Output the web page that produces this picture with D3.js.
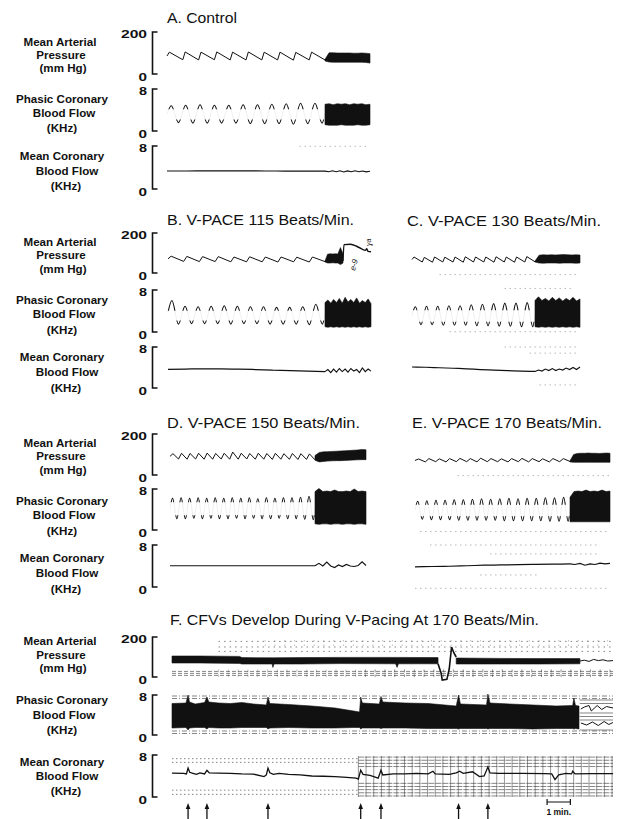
<!DOCTYPE html>
<html><head><meta charset="utf-8">
<script src="https://cdn.jsdelivr.net/npm/d3@7"></script>
<style>
html,body{margin:0;padding:0;background:#fff;}
svg{display:block;}
text{font-family:"Liberation Sans",Arial,sans-serif;fill:#111;}
</style></head><body>
<svg id="chart" width="617" height="819"></svg>
<script>
// ================= DATA =================
const panelKeys = ["A","B","C","D","E"];
const panelTitles = ["A. Control","B. V-PACE  115 Beats/Min.","C. V-PACE  130 Beats/Min.","D. V-PACE  150 Beats/Min.","E. V-PACE  170 Beats/Min."];
const fTitle = "F.  CFVs Develop During V-Pacing  At 170 Beats/Min.";
const channelLabels = [["Mean Arterial","Pressure","(mm Hg)"],["Phasic Coronary","Blood Flow","(KHz)"],["Mean Coronary","Blood Flow","(KHz)"]];
const topTicks = ["200","8","8"];
const bottomTicks = ["0","0","0"];
const mapDomain = [0,200];
const flowDomain = [0,8];
// seconds: pacing onset (start of dense segment) and end of trace
const paceStart = [6.32,6.28,4.92,5.8,6.2];
const traceEnd  = [8.12,8.12,6.72,7.84,7.8];

// --- A. Control
const aMapSys = [104,105,104,105,104,105,104,104,103,104];
const aMapDia = [68,67,68,67,67,67,67,66,67,67];
const aMapBand = [[70,62],[101,57],[101,56],[100,56],[100,56],[100,56],[100,56],[99,56],[99,56],[100,56],[99,55],[97,52]];
const aFlowPeak = [4.8,4.9,5.0,4.9,4.9,5.0,5.0,5.1,5.2,5.3,5.3];
const aFlowTrough = [1.6,1.5,1.5,1.5,1.5,1.4,1.4,1.4,1.3,1.4,1.5];
const aFlowBand = [[5.1,1.2],[5.2,1.1],[5.0,1.1],[5.2,1.1],[5.1,1.2],[5.2,1.1],[5.0,1.1],[5.2,1.1],[5.1,1.2],[5.2,1.1],[5.0,1.1],[5.1,1.2]];
const aMeanPre = [3.35,3.35,3.36,3.37,3.36,3.35,3.34,3.33,3.33];
const aMeanPost = [3.33,3.2,3.4,3.22,3.38,3.18,3.36,3.2,3.4,3.22,3.35,3.18,3.3];

// --- B. V-PACE 115
const bMapSys = [84,83,82,82,80,81,80,80,79,80];
const bMapDia = [58,57,57,56,56,56,55,56,55,57];
const bMapBand = [[60,55],[94,50],[96,50],[95,51],[96,50],[95,50],[127,42],[95,50]];
const bMapBandEnd = 7.0;
const bMapAfter = [[7.0,60],[7.04,142],[7.3,144],[7.6,130],[7.9,113],[7.95,122],[8.0,108],[8.12,106]];
const bFlowPeak = [6.0,4.9,4.8,4.9,5.0,4.9,4.8,4.8,4.7,4.7,4.8,5.3];
const bFlowTrough = [1.5,1.6,1.6,1.6,1.5,1.6,1.6,1.5,1.5,1.5,1.4,1.5];
const bFlowBand = [[5.6,1.0],[6.1,0.9],[5.5,1.0],[6.2,0.9],[5.6,1.0],[6.4,0.9],[5.5,1.0],[6.6,0.9],[5.7,1.0],[6.2,0.9],[5.6,1.0],[6.5,0.9],[5.5,1.0],[6.0,0.9],[5.6,1.0],[6.3,0.9],[5.4,1.0]];
const bMeanPre = [3.65,3.7,3.75,3.75,3.7,3.6,3.5,3.4,3.3,3.2];
const bMeanPost = [3.2,3.6,3.0,3.7,3.1,3.8,3.2,3.7,3.1,3.8,3.3,3.6,3.0,3.9,3.2,3.7,3.3];

// --- C. V-PACE 130
const cMapSys = [80,78,80,79,80,81,80,80,81,80,80,82];
const cMapDia = [55,54,55,55,54,55,55,54,55,54,55,56];
const cMapBand = [[60,55],[89,50],[91,49],[90,50],[91,50],[90,50],[91,49],[92,50],[91,50],[90,50],[91,49],[90,50]];
const cFlowPeak = [4.8,4.9,4.9,5.0,5.0,5.2,5.3,5.4,5.5,5.5,5.6];
const cFlowTrough = [1.4,1.4,1.3,1.3,1.3,1.2,1.2,1.1,1.1,1.0,1.0];
const cFlowBand = [[6.0,1.0],[6.7,0.9],[6.0,1.0],[6.4,0.9],[5.9,1.0],[6.6,0.9],[6.0,1.0],[6.5,0.9],[5.9,1.0],[6.4,0.9],[6.0,1.0],[6.6,0.9],[5.9,1.0],[6.3,0.9]];
const cMeanPre = [4.1,4.05,3.95,3.85,3.75,3.6,3.5,3.4,3.3,3.25];
const cMeanPost = [3.2,3.5,3.3,3.7,3.4,3.8,3.4,3.7,3.5,3.9,3.6,4.0,3.6,4.1];

// --- D. V-PACE 150
const dMapSys = [104,106,105,106,107,105,106,112,106,105,106,105,106,104,105,104,103];
const dMapDia = [78,77,78,77,77,78,77,77,78,77,77,76,77,77,76,76,74];
const dMapBand = [[95,72],[110,64],[113,66],[114,68],[115,69],[116,70],[117,70],[118,71],[119,72],[121,73],[122,74],[124,75],[123,75]];
const dFlowPeak = [6.2,6.3,6.2,6.3,6.2,6.3,6.2,6.3,6.2,6.3,6.1,6.3,6.2,6.3,6.3,6.4,6.6];
const dFlowTrough = [2.2,2.2,2.3,2.2,2.3,2.2,2.2,2.3,2.2,2.3,2.2,2.2,2.3,2.2,2.2,2.1,2.0];
const dFlowBand = [[7.5,1.2],[8.1,1.1],[7.5,1.2],[7.6,1.2],[7.5,1.1],[7.8,1.2],[7.5,1.2],[7.5,1.1],[7.6,1.2],[7.5,1.2],[8.0,1.1],[7.5,1.2],[7.6,1.2],[7.5,1.1]];
const dMeanPre = [4.05,4.05,4.05,4.05,4.05,4.05,4.05,4.05];
const dMeanPost = [4.05,4.5,4.0,4.75,4.0,3.7,4.2,3.9,4.3,4.0,3.9,4.1,4.8,4.1];

// --- E. V-PACE 170
const eMapSys = [78,80,79,80,81,80,82,80,79,80,81,80,79,80,80];
const eMapDia = [64,65,64,65,65,64,65,65,64,65,64,65,64,65,66];
const eMapBand = [[70,64],[100,62],[105,62],[106,62],[106,62],[107,62],[106,62],[106,62],[105,62],[106,62],[107,62],[106,62]];
const eFlowPeak = [5.6,5.7,5.8,5.8,5.9,5.9,6.0,6.1,6.0,6.1,6.2,6.1,6.2,6.2,6.3,6.3,6.4];
const eFlowTrough = [2.1,2.0,2.0,2.0,1.9,1.9,1.9,1.9,1.9,1.8,1.8,1.8,1.8,1.8,1.7,1.7,1.7];
const eFlowBand = [[6.4,1.6],[7.5,1.6],[7.6,1.6],[7.5,1.6],[7.8,1.6],[7.5,1.6],[7.6,1.6],[7.5,1.6],[7.8,1.6],[7.5,1.6],[7.6,1.6]];
const eMeanPre = [3.85,3.9,3.95,4.05,4.15,4.2,4.25,4.3,4.35,4.4];
const eMeanPost = [4.4,4.3,4.5,4.15,4.4,4.3,4.55,4.4,4.5];

// chart-paper marks: [panel, channel, value, t0, t1]
const paperMarks = [
  ["A",2,7.95,5.3,8.1],
  ["C",0,-8,1.1,6.7],["C",1,8.3,3.7,6.5],["C",1,0.05,1.5,6.7],["C",2,8.0,3.7,6.7],["C",2,6.8,4.7,6.7],["C",2,0.6,5.1,6.7],
  ["E",0,-3,1.7,7.8],["E",1,-0.3,0.2,7.8],["E",2,8.0,0.6,7.4],["E",2,6.3,3.0,7.4],["E",2,2.3,2.6,5.0],["E",2,-0.25,0,7.8]
];

// --- F. CFVs during V-pacing at 170 (time in minutes)
const fEnd = 18.93;
const fMapBand1 = [[0,105,70],[1.2,105,70],[2.9,103,68],[3.0,97,65],[4.3,96,65],[4.33,96,48],[4.38,96,65],[5.5,97,65],[7.2,98,67],[9.6,98,66],[9.66,98,48],[9.72,98,66],[11.42,97,66]];
const fMapEvent = [[11.42,66],[11.55,20],[11.6,-15],[11.8,-12],[11.9,40],[12.0,150],[12.1,120],[12.2,100]];
const fMapBand2 = [[12.2,95,65],[14.1,93,65],[15.8,92,65],[17.51,92,66]];
const fMapTail = [[17.51,80],[17.7,84],[17.9,78],[18.1,88],[18.3,82],[18.5,86],[18.7,80],[18.93,82]];
const fFlowBand = [[0,6.3,1.4],[0.6,6.4,1.5],[0.69,8.0,1.0],[0.75,6.6,1.4],[1.0,6.2,1.5],[1.4,6.5,1.5],[1.5,7.6,1.2],[1.58,6.6,1.5],[2.0,6.4,1.4],[2.5,6.3,1.4],[3.0,6.5,1.5],[3.5,6.2,1.5],[4.05,6.0,1.5],[4.12,7.6,1.2],[4.2,6.3,1.4],[5.0,6.1,1.5],[6.0,5.8,1.4],[7.0,5.4,1.4],[7.8,4.8,1.5],[8.05,4.6,1.5],[8.1,7.6,1.2],[8.17,6.4,1.4],[8.9,6.2,1.4],[8.97,7.7,1.3],[9.05,6.6,1.4],[10.0,6.4,1.4],[11.0,6.3,1.3],[12.2,5.8,1.3],[12.3,8.0,1.2],[12.38,6.2,1.3],[13.5,6.0,1.3],[13.56,8.2,1.2],[13.65,6.4,1.3],[14.5,6.2,1.3],[15.5,6.0,1.2],[16.5,5.8,1.3],[17.2,5.9,1.3],[17.25,7.4,1.2],[17.32,5.9,1.3],[17.47,5.8,1.2]];
const fFlowTailHi = [[17.55,5.2],[17.7,5.6],[17.9,5.9],[18.0,4.8],[18.25,5.9],[18.45,5.1],[18.65,5.7],[18.93,5.4]];
const fFlowTailLo = [[17.55,2.4],[17.8,2.0],[18.05,2.6],[18.3,1.9],[18.55,2.7],[18.75,2.1],[18.93,2.5]];
const fMeanFlow = [[0,4.55],[0.5,4.5],[0.62,4.4],[0.69,5.5],[0.76,4.7],[0.9,4.5],[1.05,4.3],[1.2,4.6],[1.4,4.4],[1.5,5.1],[1.6,4.6],[2.0,4.55],[2.5,4.5],[3.0,4.4],[3.5,4.35],[3.95,3.9],[4.05,4.2],[4.12,5.5],[4.2,4.6],[4.35,4.3],[4.6,4.5],[5.0,4.3],[5.5,4.2],[6.0,4.0],[6.5,3.95],[7.0,3.9],[7.5,3.75],[7.9,3.6],[8.0,3.4],[8.1,5.1],[8.2,4.3],[8.5,4.1],[8.85,3.6],[8.97,5.1],[9.05,4.2],[9.5,4.4],[10.0,4.4],[10.5,4.5],[11.0,4.4],[11.2,4.9],[11.3,4.4],[11.9,4.3],[12.2,4.6],[12.35,4.9],[12.5,4.5],[12.9,4.8],[13.2,3.9],[13.4,4.0],[13.56,5.7],[13.65,4.6],[14.0,4.5],[15.0,4.5],[16.0,4.45],[16.3,4.4],[16.44,3.3],[16.6,4.2],[16.9,4.5],[17.15,4.4],[17.2,4.9],[17.3,4.4],[18.0,4.45],[18.93,4.45]];
const fArrowTimes = [0.69,1.5,4.12,8.1,8.97,12.3,13.56];
const fScaleBar = [16.1,17.1];
const fScaleLabel = "1 min.";
// chart-paper grid values
const fMapGrid = [178,150,128,28,18,8];
const fFlowGrid = [7.8,7.3,0.8,0.3];
const fMeanGridSparse = [7.3,6.6,1.3,0.5];
const fMeanGridDense = [7.6,7.0,6.4,5.8,2.6,2.0,1.4,0.8,0.2];
const fFlowTailGrid = [7.0,6.3,4.4,3.7,3.0,1.0];

const panelData = {
  A:{mapSys:aMapSys,mapDia:aMapDia,mapBand:aMapBand,flowPeak:aFlowPeak,flowTrough:aFlowTrough,flowBand:aFlowBand,meanPre:aMeanPre,meanPost:aMeanPost},
  B:{mapSys:bMapSys,mapDia:bMapDia,mapBand:bMapBand,mapBandEnd:bMapBandEnd,mapAfter:bMapAfter,flowPeak:bFlowPeak,flowTrough:bFlowTrough,flowBand:bFlowBand,meanPre:bMeanPre,meanPost:bMeanPost},
  C:{mapSys:cMapSys,mapDia:cMapDia,mapBand:cMapBand,flowPeak:cFlowPeak,flowTrough:cFlowTrough,flowBand:cFlowBand,meanPre:cMeanPre,meanPost:cMeanPost},
  D:{mapSys:dMapSys,mapDia:dMapDia,mapBand:dMapBand,flowPeak:dFlowPeak,flowTrough:dFlowTrough,flowBand:dFlowBand,meanPre:dMeanPre,meanPost:dMeanPost},
  E:{mapSys:eMapSys,mapDia:eMapDia,mapBand:eMapBand,flowPeak:eFlowPeak,flowTrough:eFlowTrough,flowBand:eFlowBand,meanPre:eMeanPre,meanPost:eMeanPost}
};

// ================= LAYOUT =================
const ink = "#111";
const bracketX = 152.5;
const rowsY = [
  [[32,74],[89,131],[146,189]],
  [[233,273],[290,332],[347,388]],
  [[434,475],[489,530],[545,587]],
  [[637,677],[695,735],[755,797]]
];
const labelY = [
  [[42,55,68],[99,113,128],[156,171,186]],
  [[242,255,269],[300,314,330],[357,372,388]],
  [[443,456,470],[501,515,531],[558,573,589]],
  [[641,654.5,668],[700,715,730],[762,776,791]]
];
const labelX = [[60,61,63],[62,64,62],[62,67,66]];
const panelLayout = {
  A:{row:0,x0:167,x1:370,tx:167,ty:23,tw:70,rise:0.15},
  B:{row:1,x0:168,x1:371,tx:167,ty:225,tw:187,rise:0.2},
  C:{row:1,x0:412,x1:580,tx:407,ty:226,tw:194,rise:0.2},
  D:{row:2,x0:170,x1:366,tx:167,ty:428,tw:193,rise:0.35},
  E:{row:2,x0:415,x1:610,tx:412,ty:428,tw:190,rise:0.35}
};

const svg = d3.select("#chart");

// ---------- left labels, brackets, ticks ----------
rowsY.forEach((row, r) => {
  const g = svg.append("g");
  row.forEach((br, c) => {
    g.append("path")
      .attr("d", `M${bracketX+5},${br[0]}H${bracketX}V${br[1]}H${bracketX+5}`)
      .attr("fill","none").attr("stroke",ink).attr("stroke-width",1.6);
    g.append("text").attr("x",147).attr("y",br[0]+5.5).attr("text-anchor","end")
      .attr("font-size",11.5).attr("font-weight","bold")
      .attr("textLength", topTicks[c].length===3?26:8).attr("lengthAdjust","spacingAndGlyphs")
      .text(topTicks[c]);
    g.append("text").attr("x",147).attr("y",br[1]+6.5).attr("text-anchor","end")
      .attr("font-size",11.5).attr("font-weight","bold")
      .attr("textLength",8.5).attr("lengthAdjust","spacingAndGlyphs").text(bottomTicks[c]);
    channelLabels[c].forEach((s, k) => {
      g.append("text").attr("x",labelX[c][k]).attr("y",labelY[r][c][k]+4.2)
        .attr("text-anchor","middle").attr("font-size",11.6).attr("font-weight","bold")
        .text(s);
    });
  });
});

// ---------- panels A-E ----------
panelKeys.forEach((key, pi) => {
  const L = panelLayout[key], D = panelData[key];
  const rb = rowsY[L.row];
  const tP = paceStart[pi], tE = traceEnd[pi];
  const x = d3.scaleLinear().domain([0, tE]).range([L.x0, L.x1]);
  const yM = d3.scaleLinear().domain(mapDomain).range([rb[0][1], rb[0][0]]);
  const yP = d3.scaleLinear().domain(flowDomain).range([rb[1][1], rb[1][0]]);
  const yC = d3.scaleLinear().domain(flowDomain).range([rb[2][1], rb[2][0]]);
  const ys = [yM, yP, yC];
  const g = svg.append("g");

  g.append("text").attr("x",L.tx).attr("y",L.ty).attr("font-size",15)
    .attr("textLength",L.tw).attr("lengthAdjust","spacingAndGlyphs").text(panelTitles[pi]);

  paperMarks.filter(m => m[0]===key).forEach(m => {
    g.append("line").attr("x1",x(m[3])).attr("x2",x(m[4]))
      .attr("y1",ys[m[1]](m[2])).attr("y2",ys[m[1]](m[2]))
      .attr("stroke","#999").attr("stroke-width",0.7).attr("stroke-dasharray","1.5,3.5");
  });

  // MAP sawtooth
  const n = D.mapSys.length, dt = tP / n;
  const mp = [[0, (D.mapSys[0]+D.mapDia[0])/2]];
  for (let i=0;i<n;i++){ mp.push([i*dt + L.rise*dt, D.mapSys[i]]); mp.push([(i+1)*dt, D.mapDia[i]]); }
  g.append("path").attr("d", d3.line().x(d=>x(d[0])).y(d=>yM(d[1]))(mp))
    .attr("fill","none").attr("stroke",ink).attr("stroke-width",1.0);
  const bEnd = D.mapBandEnd || tE;
  const mb = D.mapBand;
  g.append("path").attr("d", d3.area()
      .x((d,i)=>x(tP + i*(bEnd-tP)/(mb.length-1)))
      .y0(d=>yM(d[1])).y1(d=>yM(d[0]))(mb))
    .attr("fill",ink).attr("stroke",ink).attr("stroke-width",0.6);
  if (D.mapAfter) {
    g.append("path").attr("d", d3.line().x(d=>x(d[0])).y(d=>yM(d[1])).curve(d3.curveMonotoneX)(D.mapAfter))
      .attr("fill","none").attr("stroke",ink).attr("stroke-width",1.4);
  }

  // Phasic flow wave: faint body, inked extremes
  const m = D.flowPeak.length, ft = tP / m;
  const fp = [[0,(D.flowPeak[0]+D.flowTrough[0])/2]];
  for (let i=0;i<m;i++){ fp.push([(i+0.3)*ft, D.flowPeak[i]]); fp.push([(i+0.8)*ft, D.flowTrough[i]]); }
  fp.push([tP, (D.flowPeak[m-1]+D.flowTrough[m-1])/2]);
  const flowPath = d3.line().x(d=>x(d[0])).y(d=>yP(d[1])).curve(d3.curveMonotoneX)(fp);
  g.append("path").attr("d",flowPath).attr("fill","none").attr("stroke","#666")
    .attr("stroke-width",0.6).attr("opacity",0.18);
  const cid = "clip"+key;
  const cp = svg.append("clipPath").attr("id",cid);
  const pkMax = d3.max(D.flowPeak), pkMin = d3.min(D.flowPeak);
  const trMax = d3.max(D.flowTrough), trMin = d3.min(D.flowTrough);
  cp.append("rect").attr("x",L.x0-2).attr("width",L.x1-L.x0+4)
    .attr("y",yP(pkMax)-4).attr("height",yP(pkMin)-yP(pkMax)+7.5);
  cp.append("rect").attr("x",L.x0-2).attr("width",L.x1-L.x0+4)
    .attr("y",yP(trMax)-3).attr("height",yP(trMin)-yP(trMax)+7);
  g.append("path").attr("d",flowPath).attr("fill","none").attr("stroke",ink)
    .attr("stroke-width",1.1).attr("clip-path",`url(#${cid})`);
  const fb = D.flowBand;
  g.append("path").attr("d", d3.area()
      .x((d,i)=>x(tP + i*(tE-tP)/(fb.length-1)))
      .y0(d=>yP(d[1])).y1(d=>yP(d[0]))(fb))
    .attr("fill",ink).attr("stroke",ink).attr("stroke-width",0.6);

  // Mean coronary flow
  const pre = D.meanPre.map((v,i)=>[i*tP/(D.meanPre.length-1), v]);
  const post = D.meanPost.map((v,i)=>[tP + i*(tE-tP)/(D.meanPost.length-1), v]);
  g.append("path").attr("d", d3.line().x(d=>x(d[0])).y(d=>yC(d[1])).curve(d3.curveMonotoneX)(pre))
    .attr("fill","none").attr("stroke",ink).attr("stroke-width",1.2);
  g.append("path").attr("d", d3.line().x(d=>x(d[0])).y(d=>yC(d[1]))(post))
    .attr("fill","none").attr("stroke",ink).attr("stroke-width",1.1);
});

// B pen annotations
svg.append("text").attr("transform","translate(355,271) rotate(-75)").attr("font-size",8)
  .attr("font-style","italic").text("e-9");
svg.append("text").attr("transform","translate(371,246) rotate(-90)").attr("font-size",7)
  .attr("font-style","italic").text("ɣa");

// ---------- panel F ----------
(function(){
  const rb = rowsY[3];
  const x = d3.scaleLinear().domain([0, fEnd]).range([172, 613]);
  const yM = d3.scaleLinear().domain(mapDomain).range([rb[0][1], rb[0][0]]);
  const yP = d3.scaleLinear().domain(flowDomain).range([rb[1][1], rb[1][0]]);
  const yC = d3.scaleLinear().domain(flowDomain).range([rb[2][1], rb[2][0]]);
  const g = svg.append("g");
  g.append("text").attr("x",170).attr("y",625).attr("font-size",15)
    .attr("textLength",369).attr("lengthAdjust","spacingAndGlyphs").text(fTitle);

  const grid = g.append("g").attr("stroke","#333").attr("fill","none");
  fMapGrid.forEach((v,i) => {
    grid.append("line").attr("x1",x(i<3?2:0)).attr("x2",x(fEnd)).attr("y1",yM(v)).attr("y2",yM(v))
      .attr("stroke-width",0.6).attr("stroke-dasharray", i<3 ? "1.5,4" : "4,2");
  });
  d3.range(2, fEnd, 0.42).forEach(t => {
    grid.append("line").attr("x1",x(t)).attr("x2",x(t)).attr("y1",yM(38)).attr("y2",yM(0))
      .attr("stroke-width",0.6).attr("stroke-dasharray","3,2").attr("opacity", t>8?0.9:0.5);
  });
  d3.range(4, fEnd, 0.42).forEach(t => {
    grid.append("line").attr("x1",x(t)).attr("x2",x(t)).attr("y1",yM(185)).attr("y2",yM(140))
      .attr("stroke-width",0.5).attr("stroke-dasharray","1.5,3").attr("opacity",0.6);
  });
  fFlowGrid.forEach(v => {
    grid.append("line").attr("x1",x(0)).attr("x2",x(fEnd)).attr("y1",yP(v)).attr("y2",yP(v))
      .attr("stroke-width",0.6).attr("stroke-dasharray","5,2,1,2");
  });
  fFlowTailGrid.forEach(v => {
    grid.append("line").attr("x1",x(17.5)).attr("x2",x(fEnd)).attr("y1",yP(v)).attr("y2",yP(v))
      .attr("stroke-width",0.6);
  });
  fMeanGridSparse.forEach(v => {
    grid.append("line").attr("x1",x(0)).attr("x2",x(8)).attr("y1",yC(v)).attr("y2",yC(v))
      .attr("stroke-width",0.6).attr("stroke-dasharray","1.5,2.5");
  });
  fMeanGridDense.forEach(v => {
    grid.append("line").attr("x1",x(8)).attr("x2",x(fEnd)).attr("y1",yC(v)).attr("y2",yC(v))
      .attr("stroke-width",0.6).attr("stroke-dasharray","6,1");
  });
  d3.range(8, fEnd, 0.33).forEach(t => {
    grid.append("line").attr("x1",x(t)).attr("x2",x(t)).attr("y1",yC(7.8)).attr("y2",yC(0))
      .attr("stroke-width",0.6).attr("opacity",0.85);
  });

  const area3 = d3.area().x(d=>x(d[0])).y0(d=>yM(d[2])).y1(d=>yM(d[1]));
  [fMapBand1, fMapBand2].forEach(b => g.append("path").attr("d",area3(b))
    .attr("fill",ink).attr("stroke",ink).attr("stroke-width",0.6));
  const lineM = d3.line().x(d=>x(d[0])).y(d=>yM(d[1]));
  g.append("path").attr("d",lineM(fMapEvent)).attr("fill","none").attr("stroke",ink).attr("stroke-width",1.6);
  g.append("path").attr("d",lineM(fMapTail)).attr("fill","none").attr("stroke",ink).attr("stroke-width",1);

  g.append("path").attr("d", d3.area().x(d=>x(d[0])).y0(d=>yP(d[2])).y1(d=>yP(d[1]))(fFlowBand))
    .attr("fill",ink).attr("stroke",ink).attr("stroke-width",0.6);
  const lineP = d3.line().x(d=>x(d[0])).y(d=>yP(d[1]));
  [fFlowTailHi, fFlowTailLo].forEach(a => g.append("path").attr("d",lineP(a))
    .attr("fill","none").attr("stroke",ink).attr("stroke-width",1));

  g.append("path").attr("d", d3.line().x(d=>x(d[0])).y(d=>yC(d[1]))(fMeanFlow))
    .attr("fill","none").attr("stroke",ink).attr("stroke-width",1.3);

  fArrowTimes.forEach(t => {
    const ax = x(t);
    g.append("line").attr("x1",ax).attr("x2",ax).attr("y1",808).attr("y2",819)
      .attr("stroke",ink).attr("stroke-width",1.3);
    g.append("path").attr("d",`M${ax-2.3},809L${ax},803L${ax+2.3},809Z`).attr("fill",ink);
  });
  const s0 = x(fScaleBar[0]), s1 = x(fScaleBar[1]);
  g.append("path").attr("d",`M${s0},799V805M${s0},802H${s1}M${s1},799V805`)
    .attr("fill","none").attr("stroke",ink).attr("stroke-width",1.2);
  g.append("text").attr("x",(s0+s1)/2).attr("y",815).attr("text-anchor","middle")
    .attr("font-size",8.5).attr("font-weight","bold").text(fScaleLabel);
})();
</script>
</body></html>
